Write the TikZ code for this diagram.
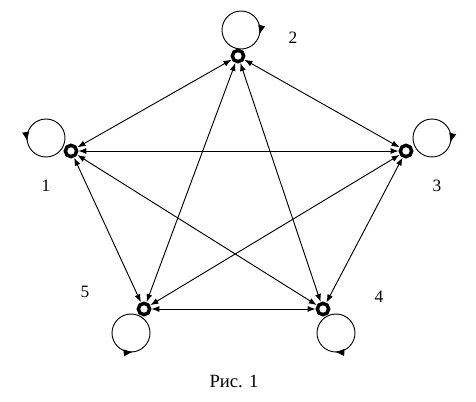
\documentclass[tikz,border=0pt]{standalone}
\usepackage{fontspec}
\setmainfont{Liberation Serif}
\usetikzlibrary{arrows.meta,calc}
\begin{document}
\begin{tikzpicture}[x=0.75pt,y=-0.75pt,
  vert/.style={circle,draw,line width=2.6pt,minimum size=8.5pt,inner sep=0pt},
  loopc/.style={circle,draw,line width=0.7pt,minimum size=28.5pt,inner sep=0pt},
  edge/.style={line width=0.7pt,{Latex[length=6pt,width=4.5pt]}-{Latex[length=6pt,width=4.5pt]}},
  looptip/.style={line width=0.7pt,-{Latex[length=7pt,width=5.5pt]}},
  lab/.style={font=\fontsize{13}{15}\selectfont},
  captext/.style={font=\fontsize{14}{16}\selectfont}]
\useasboundingbox (0,0) rectangle (476,401);
\node[vert] (n1) at (71,151) {};
\node[vert] (n2) at (238,56) {};
\node[vert] (n3) at (406,151) {};
\node[vert] (n4) at (323,309) {};
\node[vert] (n5) at (144,309) {};
\foreach \a/\b in {1/2,1/3,1/4,1/5,2/3,2/4,2/5,3/4,3/5,4/5}
  \draw[edge] (n\a) -- (n\b);
\node[loopc] (l1) at (46,138) {};
\node[loopc] (l2) at (241,30) {};
\node[loopc] (l3) at (432,138) {};
\node[loopc] (l4) at (336,333) {};
\node[loopc] (l5) at (131,333) {};
\draw[looptip] ($(l2.center)+(12:14.25pt)$) arc[start angle=12,end angle=-14,radius=14.25pt];
\draw[looptip] ($(l3.center)+(12:14.25pt)$) arc[start angle=12,end angle=-14,radius=14.25pt];
\draw[looptip] ($(l1.center)+(164:14.25pt)$) arc[start angle=164,end angle=190,radius=14.25pt];
\draw[looptip] ($(l5.center)+(250:14.25pt)$) arc[start angle=250,end angle=276,radius=14.25pt];
\draw[looptip] ($(l4.center)+(293:14.25pt)$) arc[start angle=293,end angle=267,radius=14.25pt];
\node[lab] (t1) at (46,186) {1};
\node[lab] (t2) at (293,38) {2};
\node[lab] (t3) at (437,186) {3};
\node[lab] (t4) at (379,297) {4};
\node[lab] (t5) at (85,292) {5};
\node[captext] (c) at (234,381) {Рис. 1};
\end{tikzpicture}
\end{document}
